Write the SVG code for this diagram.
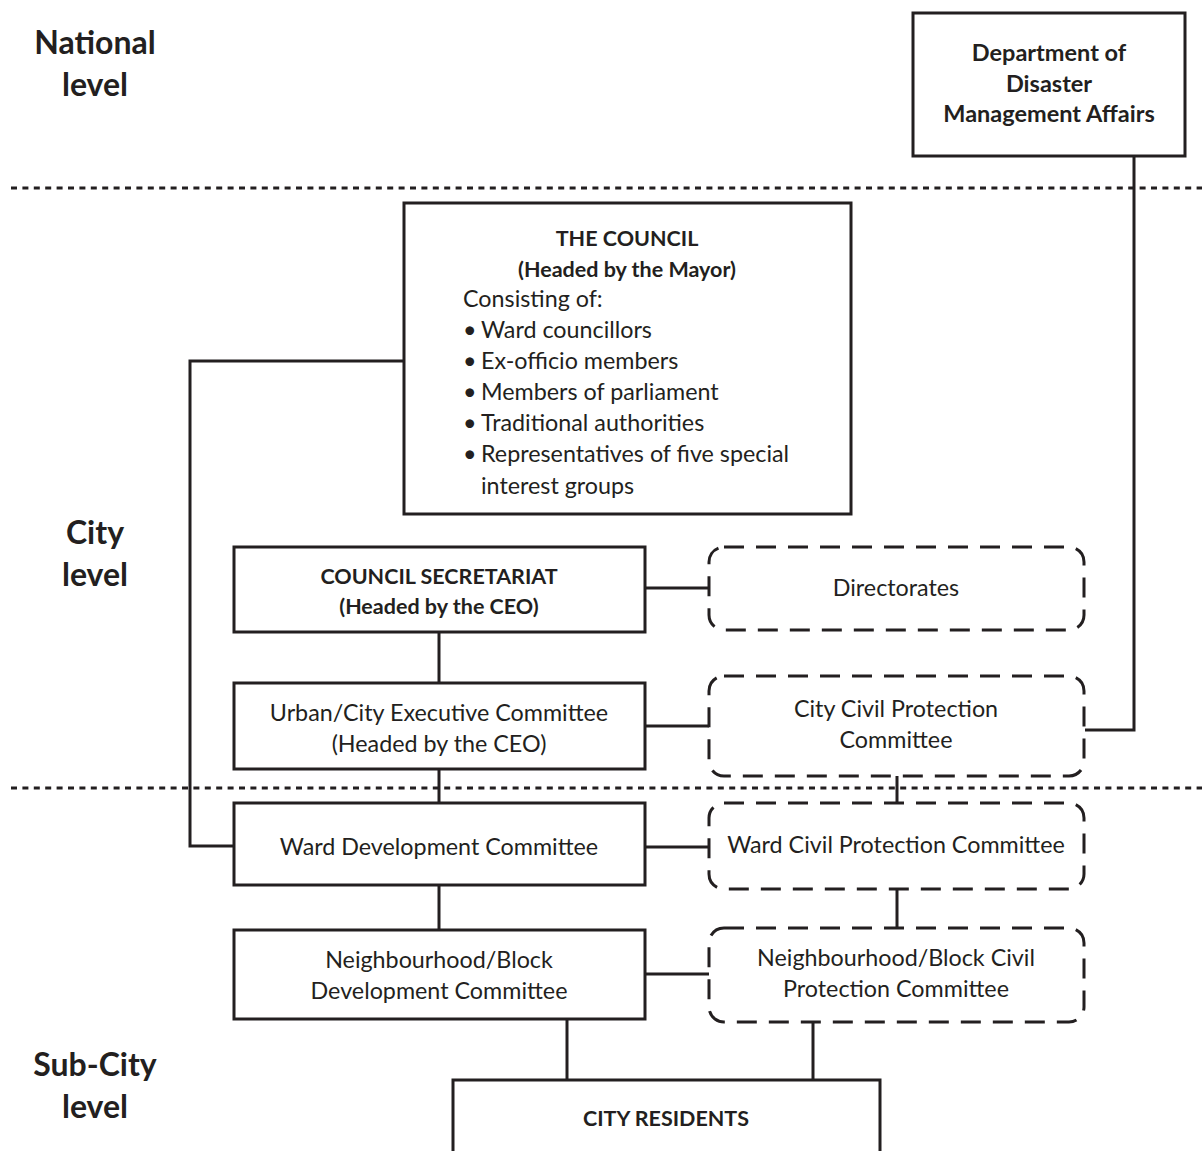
<svg xmlns="http://www.w3.org/2000/svg" width="1202" height="1151" viewBox="0 0 1202 1151">
<style>
text{font-family:Lato,"Open Sans","Liberation Sans",sans-serif;fill:#231f20;}
.lvl{font-size:32px;font-weight:bold;text-anchor:middle;}
.t{font-size:23.3px;text-anchor:middle;}
.b{font-size:21.5px;font-weight:bold;text-anchor:middle;}
.bd{font-size:23.5px;font-weight:bold;text-anchor:middle;}
.l{font-size:23.3px;}
.box{fill:#fff;stroke:#231f20;stroke-width:3;}
.dbox{fill:#fff;stroke:#231f20;stroke-width:3;stroke-dasharray:20 12;}
.sep{stroke:#231f20;stroke-width:3;stroke-dasharray:6 5.4;fill:none;}
.c{stroke:#231f20;stroke-width:3;fill:none;}
</style>
<g id="levels">
<text class="lvl" x="95" y="54">National</text>
<text class="lvl" x="95" y="96">level</text>
<text class="lvl" x="95" y="544">City</text>
<text class="lvl" x="95" y="586">level</text>
<text class="lvl" x="95" y="1076">Sub-City</text>
<text class="lvl" x="95" y="1118">level</text>
</g>
<g id="separators">
<line class="sep" x1="11" y1="188" x2="1202" y2="188"/>
<line class="sep" x1="11" y1="788" x2="1202" y2="788"/>
</g>
<g id="connectors">
<polyline class="c" points="1134,156 1134,730 1085,730"/>
<polyline class="c" points="404,361 190,361 190,846 234,846"/>
<line class="c" x1="645" y1="588" x2="709" y2="588"/>
<line class="c" x1="439" y1="632" x2="439" y2="683"/>
<line class="c" x1="645" y1="726" x2="709" y2="726"/>
<line class="c" x1="439" y1="769" x2="439" y2="803"/>
<line class="c" x1="897" y1="776" x2="897" y2="803"/>
<line class="c" x1="645" y1="847" x2="709" y2="847"/>
<line class="c" x1="439" y1="885" x2="439" y2="930"/>
<line class="c" x1="897" y1="889" x2="897" y2="928"/>
<line class="c" x1="645" y1="974" x2="709" y2="974"/>
<line class="c" x1="567" y1="1019" x2="567" y2="1080"/>
<line class="c" x1="813" y1="1022" x2="813" y2="1080"/>
</g>
<g id="ddma">
<rect class="box" x="913" y="13" width="272" height="143"/>
<text class="bd" x="1049" y="61">Department of</text>
<text class="bd" x="1049" y="92">Disaster</text>
<text class="bd" x="1049" y="122">Management Affairs</text>
</g>
<g id="council">
<rect class="box" x="404" y="203" width="447" height="311"/>
<text class="b" x="627" y="246">THE COUNCIL</text>
<text class="b" x="627" y="277">(Headed by the Mayor)</text>
<text class="l" x="463" y="307">Consisting of:</text>
<text class="l" x="463" y="338">•</text><text class="l" x="481" y="338">Ward councillors</text>
<text class="l" x="463" y="369">•</text><text class="l" x="481" y="369">Ex-officio members</text>
<text class="l" x="463" y="400">•</text><text class="l" x="481" y="400">Members of parliament</text>
<text class="l" x="463" y="431">•</text><text class="l" x="481" y="431">Traditional authorities</text>
<text class="l" x="463" y="462">•</text><text class="l" x="481" y="462">Representatives of five special</text>
<text class="l" x="481" y="494">interest groups</text>
</g>
<g id="secretariat">
<rect class="box" x="234" y="547" width="411" height="85"/>
<text class="b" x="439" y="584">COUNCIL SECRETARIAT</text>
<text class="b" x="439" y="614">(Headed by the CEO)</text>
</g>
<g id="directorates">
<rect class="dbox" x="709" y="547" width="375" height="83" rx="15"/>
<text class="t" x="896" y="596">Directorates</text>
</g>
<g id="urban">
<rect class="box" x="234" y="683" width="411" height="86"/>
<text class="t" x="439" y="721">Urban/City Executive Committee</text>
<text class="t" x="439" y="752">(Headed by the CEO)</text>
</g>
<g id="ccpc">
<rect class="dbox" x="709" y="676" width="375" height="100" rx="15"/>
<text class="t" x="896" y="717">City Civil Protection</text>
<text class="t" x="896" y="748">Committee</text>
</g>
<g id="wdc">
<rect class="box" x="234" y="803" width="411" height="82"/>
<text class="t" x="439" y="855">Ward Development Committee</text>
</g>
<g id="wcpc">
<rect class="dbox" x="709" y="803" width="375" height="86" rx="15"/>
<text class="t" x="896" y="853">Ward Civil Protection Committee</text>
</g>
<g id="nbdc">
<rect class="box" x="234" y="930" width="411" height="89"/>
<text class="t" x="439" y="968">Neighbourhood/Block</text>
<text class="t" x="439" y="999">Development Committee</text>
</g>
<g id="nbcpc">
<rect class="dbox" x="709" y="928" width="375" height="94" rx="15"/>
<text class="t" x="896" y="966">Neighbourhood/Block Civil</text>
<text class="t" x="896" y="997">Protection Committee</text>
</g>
<g id="residents">
<rect class="box" x="453" y="1080" width="427" height="100"/>
<text class="b" x="666" y="1126">CITY RESIDENTS</text>
</g>
</svg>
